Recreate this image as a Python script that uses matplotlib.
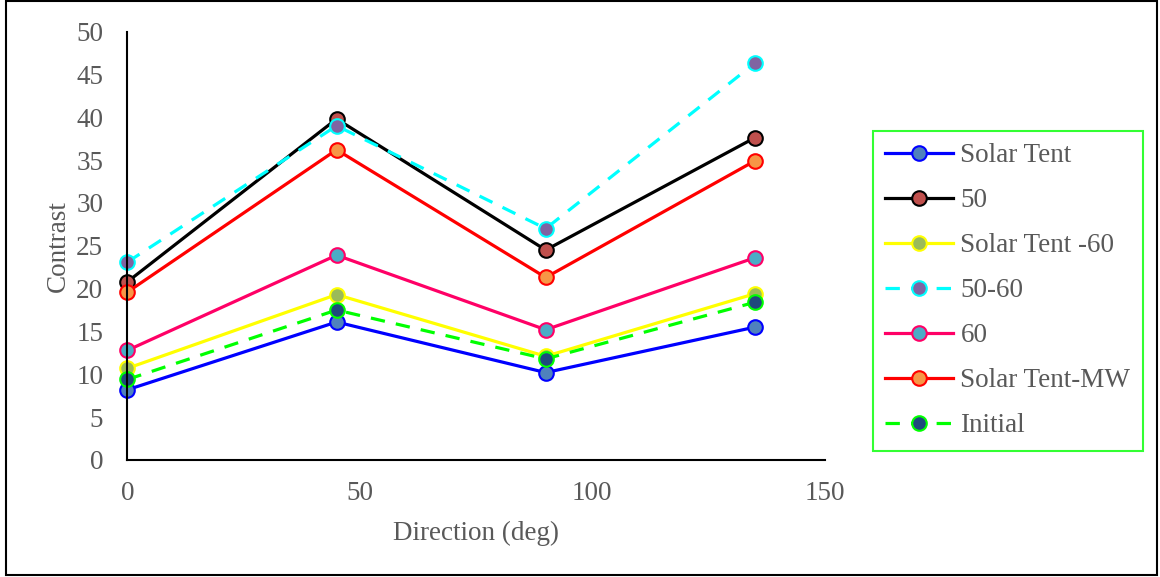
import matplotlib
matplotlib.use("Agg")
import matplotlib.pyplot as plt
from matplotlib.patches import Rectangle

plt.rcParams['font.family'] = ['Liberation Serif', 'DejaVu Serif']

# contrast per scan direction for each sample
direction = [0, 45, 90, 135]
solar_tent = [8.2, 16.1, 10.2, 15.5]
s50 = [20.8, 39.8, 24.5, 37.6]
solar_tent_60 = [10.7, 19.3, 12.1, 19.4]
s50_60 = [23.1, 39.0, 27.0, 46.3]
s60 = [12.8, 23.9, 15.2, 23.6]
solar_tent_mw = [19.6, 36.2, 21.3, 34.9]
initial = [9.4, 17.5, 11.8, 18.4]

series = [
    ('Solar Tent', solar_tent, '#0000FF', '#4F81BD', '-'),
    ('50', s50, '#000000', '#C0504D', '-'),
    ('Solar Tent -60', solar_tent_60, '#FFFF00', '#9BBB59', '-'),
    ('50-60', s50_60, '#00FFFF', '#8064A2', (0, (4.5, 3.5))),
    ('60', s60, '#FF0066', '#4BACC6', '-'),
    ('Solar Tent-MW', solar_tent_mw, '#FF0000', '#F79646', '-'),
    ('Initial', initial, '#00FF00', '#1F497D', (0, (4.5, 3.5))),
]

text_gray = '#595959'
fs = 19.5

fig = plt.figure(figsize=(11.6, 5.77), dpi=100)
ax = fig.add_axes([0.1099, 0.2028, 0.6009, 0.7426])

for name, vals, lc, fc, ls in series:
    ax.plot(direction, vals, linestyle=ls, color=lc, linewidth=2.3,
            marker='o', markersize=10.5, markerfacecolor=fc,
            markeredgecolor=lc, markeredgewidth=1.5, label=name,
            clip_on=False)

ax.set_xlim(0, 150)
ax.set_ylim(0, 50)
ax.set_xticks([0, 50, 100, 150])
ax.set_yticks(range(0, 51, 5))
ax.tick_params(axis='both', length=0, labelsize=fs, labelcolor=text_gray)
ax.tick_params(axis='x', pad=15)
ax.tick_params(axis='y', pad=17.5)
for side in ['top', 'right']:
    ax.spines[side].set_visible(False)
for side in ['left', 'bottom']:
    ax.spines[side].set_linewidth(1.5)
    ax.spines[side].set_color('black')

ax.set_xlabel('Direction (deg)', fontsize=fs, color=text_gray, labelpad=11)
ax.set_ylabel('Contrast', fontsize=fs, color=text_gray, labelpad=4)

leg = ax.legend(loc='upper left', bbox_to_anchor=(0.7526, 0.773),
                bbox_transform=fig.transFigure, borderaxespad=0,
                fontsize=fs, handlelength=2.5, labelspacing=0.74,
                fancybox=False, frameon=True, borderpad=0.45,
                handletextpad=0.28)
for t in leg.get_texts():
    t.set_color(text_gray)
leg.get_frame().set_edgecolor('#00FF00')
leg.get_frame().set_linewidth(1.5)

# outer frame round the whole figure
fig.patches.append(Rectangle((0.005, 0.003), 0.992, 0.995,
                             transform=fig.transFigure, fill=False,
                             edgecolor='black', linewidth=1.5))

fig.savefig('out.png', dpi=100)
